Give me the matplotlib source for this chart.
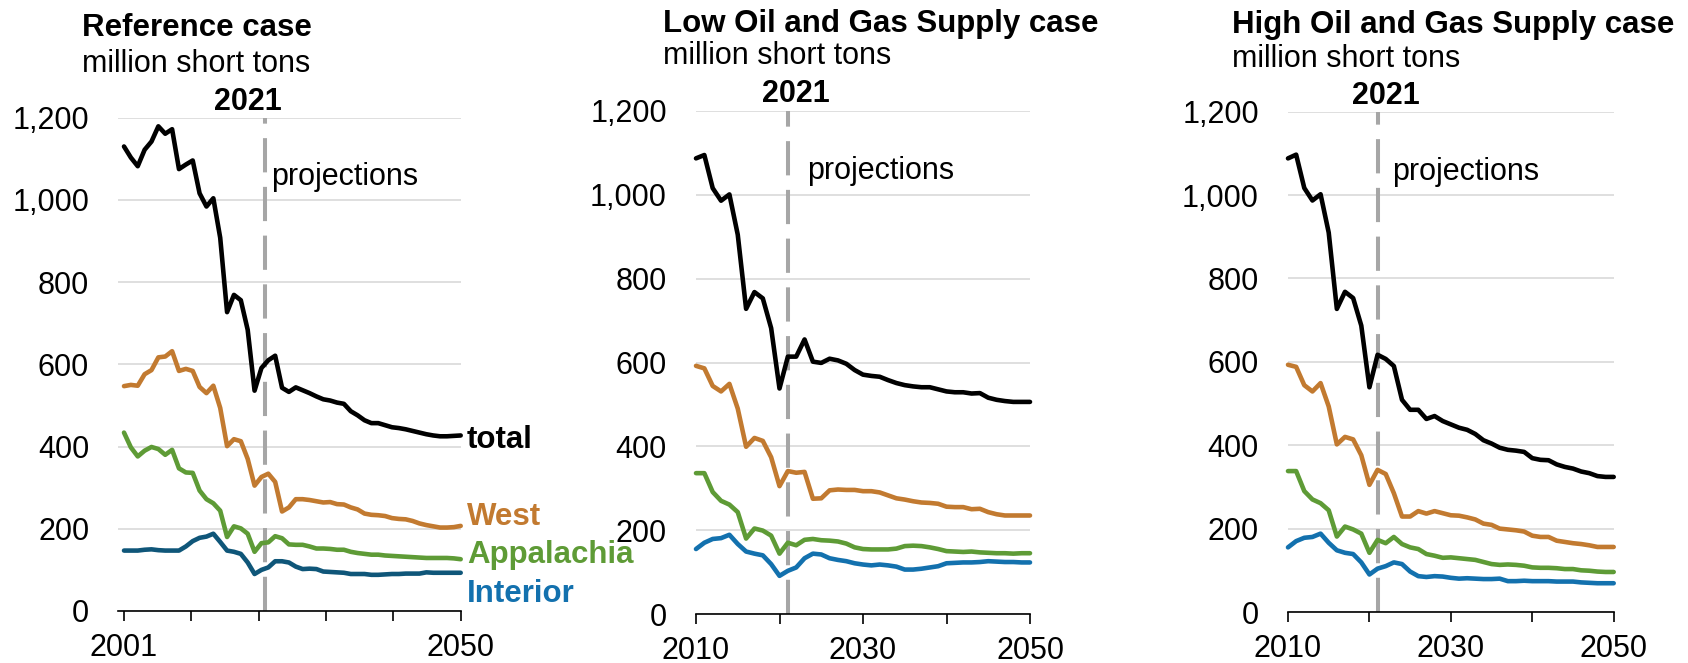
import numpy as np
import matplotlib
matplotlib.use("Agg")
import matplotlib.pyplot as plt
from matplotlib.ticker import FuncFormatter

plt.rcParams['font.family'] = ['Liberation Sans', 'DejaVu Sans']

# ---------------- data (million short tons) ----------------
ref_years = list(range(2001, 2051))
ref_total = [1130, 1103, 1082, 1122, 1142, 1179, 1161, 1172, 1075, 1086,
             1096, 1016, 984, 1004, 908, 727, 769, 756, 684, 536,
             591, 610, 621, 543, 533, 544, 537, 530, 522, 515,
             512, 507, 504, 486, 476, 464, 457, 457, 452, 447,
             445, 442, 438, 434, 430, 427, 425, 425, 426, 427]
ref_west = [547, 550, 548, 576, 586, 617, 619, 632, 584, 589,
            584, 545, 530, 548, 494, 401, 418, 413, 370, 305,
            326, 334, 314, 242, 252, 272, 272, 270, 267, 264,
            265, 260, 259, 252, 247, 237, 234, 233, 231, 226,
            224, 223, 219, 213, 209, 206, 203, 203, 204, 207]
ref_app = [434, 398, 376, 390, 399, 394, 380, 392, 347, 337,
           336, 293, 272, 262, 244, 180, 206, 201, 188, 144,
           165, 167, 182, 177, 162, 161, 161, 157, 152, 152,
           151, 149, 149, 144, 141, 139, 137, 137, 135, 134,
           133, 132, 131, 130, 129, 129, 129, 129, 128, 126]
ref_int = [147, 147, 147, 149, 150, 148, 147, 147, 147, 157,
           170, 178, 181, 188, 168, 147, 144, 139, 118, 90,
           100, 106, 121, 121, 118, 108, 102, 103, 102, 96,
           95, 94, 93, 90, 90, 90, 88, 88, 89, 90,
           90, 91, 91, 91, 94, 93, 93, 93, 93, 93]

case_years = list(range(2010, 2051))
low_total = [1087, 1095, 1016, 986, 1001, 905, 728, 768, 753, 682,
             538, 614, 614, 655, 602, 599, 609, 605, 597, 582,
             571, 568, 566, 558, 551, 546, 543, 541, 541, 536,
             531, 529, 529, 526, 527, 516, 511, 508, 506, 506, 506]
low_west = [592, 586, 544, 531, 549, 490, 399, 420, 413, 374,
            305, 341, 337, 339, 275, 276, 295, 297, 296, 296,
            293, 293, 290, 283, 276, 273, 269, 266, 265, 263,
            256, 255, 255, 250, 251, 243, 238, 235, 235, 235, 235]
low_app = [336, 336, 291, 270, 261, 243, 180, 204, 199, 187,
           144, 170, 164, 177, 179, 176, 175, 173, 168, 159,
           155, 154, 154, 154, 156, 162, 163, 162, 159, 155,
           150, 149, 148, 149, 147, 146, 145, 145, 144, 145, 145]
low_int = [155, 170, 179, 181, 189, 167, 149, 144, 140, 119,
           91, 103, 111, 133, 144, 142, 133, 129, 126, 121,
           118, 116, 118, 116, 113, 106, 106, 108, 111, 114,
           121, 122, 123, 123, 124, 126, 125, 124, 124, 123, 123]

high_total = [1088, 1097, 1017, 987, 1002, 910, 727, 768, 753, 687,
              539, 617, 607, 590, 509, 485, 485, 463, 470, 458,
              450, 442, 437, 427, 412, 404, 394, 389, 387, 384,
              369, 365, 364, 354, 348, 344, 337, 333, 326, 324, 324]
high_west = [593, 588, 544, 529, 549, 493, 402, 420, 414, 376,
             305, 341, 331, 285, 229, 229, 242, 236, 242, 237,
             232, 231, 227, 222, 212, 209, 200, 198, 196, 193,
             183, 180, 180, 171, 168, 165, 163, 160, 156, 156, 156]
high_app = [338, 338, 290, 270, 261, 244, 181, 205, 198, 188,
            142, 173, 165, 180, 163, 155, 151, 139, 135, 130,
            131, 129, 127, 125, 120, 115, 113, 114, 113, 111,
            107, 106, 106, 105, 103, 103, 100, 99, 97, 96, 96]
high_int = [155, 170, 178, 180, 188, 166, 148, 142, 139, 119,
            90, 104, 110, 119, 115, 97, 86, 84, 86, 85,
            82, 80, 81, 80, 79, 79, 80, 74, 74, 75,
            74, 74, 74, 73, 73, 73, 71, 70, 69, 69, 69]

titles = ["Reference case", "Low Oil and Gas Supply case", "High Oil and Gas Supply case"]
subtitle = "million short tons"
region_names = ["total", "West", "Appalachia", "Interior"]
y_ticks = [0, 200, 400, 600, 800, 1000, 1200]
ref_xticks = [2001, 2010.8, 2020.6, 2030.4, 2040.2, 2050]
ref_xlabels = ["2001", "", "", "", "", "2050"]
case_xticks = [2010, 2020, 2030, 2040, 2050]
case_xlabels = ["2010", "", "2030", "", "2050"]
proj_year = 2021

# ---------------- style ----------------
W, H = 1688, 663
C_TOTAL = "#000000"
C_WEST = "#C27A30"
C_APP = "#5E9B36"
C_INT_REF = "#0F5679"
C_INT = "#1371AE"
C_GRID = "#D9D9D9"
C_DASH = "#A6A6A6"
FS = 22
FS_T = 22.5

fig = plt.figure(figsize=(W / 100, H / 100), dpi=100)


def px_axes(left, right, top, bottom):
    return [left / W, 1 - bottom / H, (right - left) / W, (bottom - top) / H]


panels = [
    dict(rect=px_axes(118.3, 460.7, 117.7, 611.0), xlim=(2000.17, 2050),
         years=ref_years, series=[ref_total, ref_west, ref_app, ref_int],
         int_color=C_INT_REF, xt=ref_xticks, xl=ref_xlabels, dash_x=2021.5,
         proj_x=2022.35, tx=81.7, tb=36.5, sb=71.5, yx=248, yb=109.5),
    dict(rect=px_axes(696.0, 1030.0, 111.0, 614.0), xlim=(2010, 2050),
         years=case_years, series=[low_total, low_west, low_app, low_int],
         int_color=C_INT, xt=case_xticks, xl=case_xlabels, dash_x=proj_year,
         proj_x=2023.3, tx=663.3, tb=31.8, sb=64.5, yx=796, yb=101.7),
    dict(rect=px_axes(1288.0, 1613.7, 111.7, 612.0), xlim=(2010, 2050),
         years=case_years, series=[high_total, high_west, high_app, high_int],
         int_color=C_INT, xt=case_xticks, xl=case_xlabels, dash_x=proj_year,
         proj_x=2022.8, tx=1231.7, tb=33.3, sb=66.7, yx=1386, yb=104.5),
]

for i, p in enumerate(panels):
    ax = fig.add_axes(p["rect"])
    ax.set_xlim(*p["xlim"])
    ax.set_ylim(0, 1200)
    for s in ["left", "right", "top"]:
        ax.spines[s].set_visible(False)
    ax.spines["bottom"].set_linewidth(1.2)
    ax.spines["bottom"].set_color("black")
    ax.set_yticks(y_ticks)
    ax.yaxis.set_major_formatter(FuncFormatter(lambda v, pos: f"{int(v):,}"))
    ax.tick_params(axis="y", length=0, pad=21, labelsize=FS)
    ax.set_xticks(p["xt"])
    ax.set_xticklabels(p["xl"])
    ax.tick_params(axis="x", length=7, width=1.2, direction="out", pad=9, labelsize=FS)
    ax.grid(axis="y", color=C_GRID, linewidth=1.2)
    ax.set_axisbelow(True)

    ax.plot([p["dash_x"], p["dash_x"]], [0, 1200], color=C_DASH, lw=2.9,
            dashes=(8.5, 3.6), zorder=2, solid_capstyle="butt")

    colors = [C_TOTAL, C_WEST, C_APP, p["int_color"]]
    for vals, c in zip(p["series"], colors):
        ax.plot(p["years"], vals, color=c, lw=3.3, zorder=3,
                solid_joinstyle="round", solid_capstyle="round", clip_on=False)

    ax.text(p["proj_x"], 1037, "projections", fontsize=FS, va="baseline", ha="left")

    fig.text(p["tx"] / W, 1 - p["tb"] / H, titles[i], fontsize=FS_T,
             fontweight="bold", va="baseline", ha="left")
    fig.text(p["tx"] / W, 1 - p["sb"] / H, subtitle, fontsize=FS,
             va="baseline", ha="left")
    fig.text(p["yx"] / W, 1 - p["yb"] / H, str(proj_year), fontsize=FS,
             fontweight="bold", va="baseline", ha="center")

    if i == 0:
        lab_y = [396, 209, 116, 23]
        lab_c = [C_TOTAL, C_WEST, C_APP, C_INT]
        for name, yy, c in zip(region_names, lab_y, lab_c):
            ax.text(2050.9, yy, name, color=c, fontsize=FS_T, fontweight="bold",
                    va="baseline", ha="left", clip_on=False)

fig.savefig("out.png", dpi=100)
